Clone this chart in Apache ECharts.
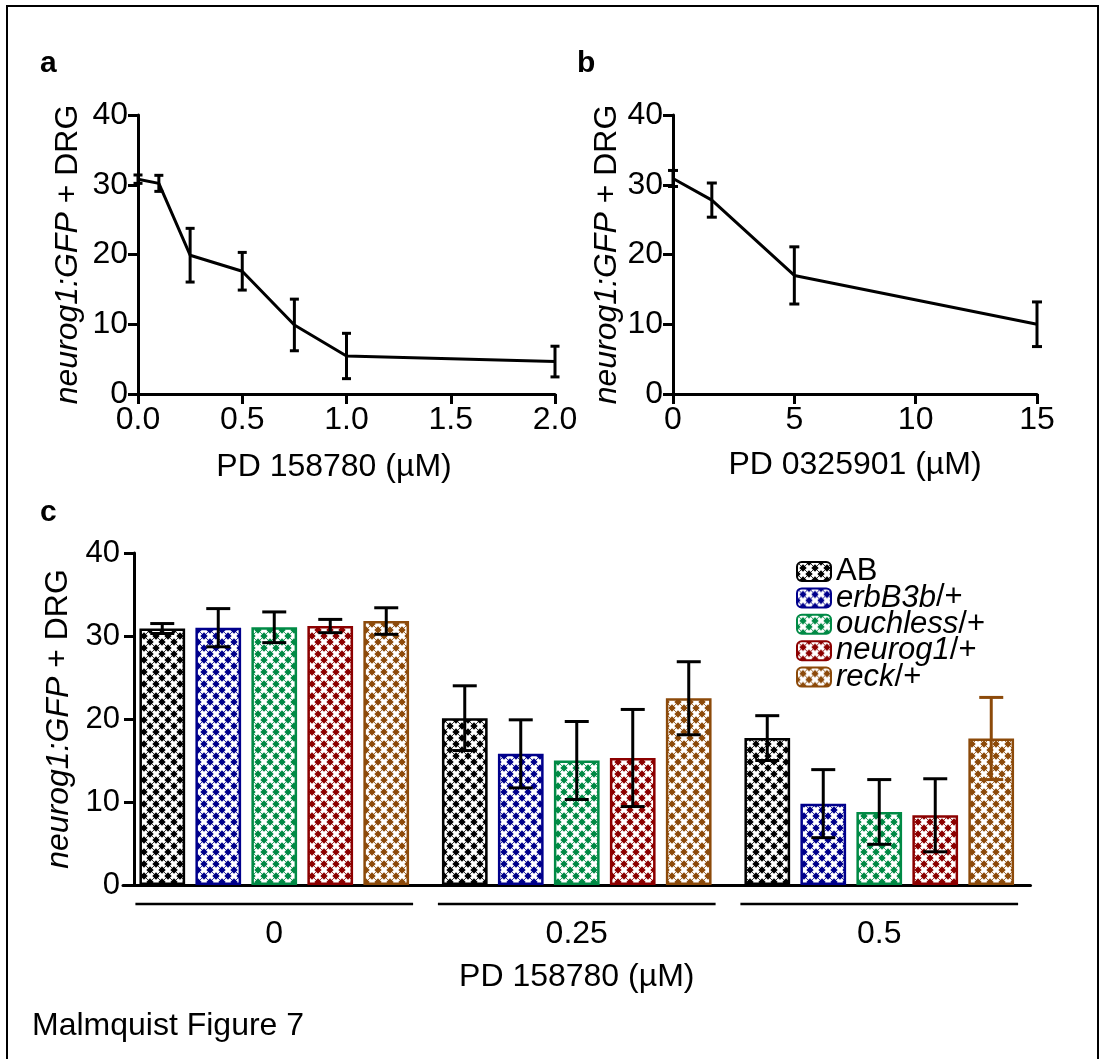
<!DOCTYPE html>
<html>
<head>
<meta charset="utf-8">
<script src="https://cdn.jsdelivr.net/npm/echarts@6/dist/echarts.min.js"></script>
<style>
  html, body { margin: 0; padding: 0; background: #fff; }
  #chart { width: 1117px; height: 1059px; }
</style>
</head>
<body>
<div id="chart"></div>
<script>
// panel a: PD 158780 dose response
const doseA = [0, 0.1, 0.25, 0.5, 0.75, 1.0, 2.0]
const meanA = [30.8, 30.2, 19.9, 17.6, 9.9, 5.45, 4.65]
const semA = [0.6, 1.15, 3.85, 2.7, 3.7, 3.25, 2.2]

// panel b: PD 0325901 dose response
const doseB = [0, 1.6, 5, 15]
const meanB = [30.9, 27.8, 17.0, 10.0]
const semB = [1.15, 2.45, 4.1, 3.2]

// panel c: heterozygotes at three PD 158780 doses
const groups = ['0', '0.25', '0.5']
const strains = ['AB', 'erbB3b/+', 'ouchless/+', 'neurog1/+', 'reck/+']
const colors = ['#000000', '#00008c', '#008a45', '#8c0000', '#8c4a0a']
const meanC = [
  [30.9, 20.1, 17.7],
  [31.0, 15.8, 9.8],
  [31.05, 15.0, 8.8],
  [31.2, 15.3, 8.4],
  [31.8, 22.5, 17.65]
]
const semC = [
  [0.6, 3.9, 2.7],
  [2.3, 4.1, 4.1],
  [1.85, 4.7, 3.9],
  [0.8, 5.85, 4.4],
  [1.6, 4.4, 4.95]
]
// error bar colour per strain and group (reck at 0.5 is drawn brown)
const errColorC = [
  ['#000', '#000', '#000'],
  ['#000', '#000', '#000'],
  ['#000', '#000', '#000'],
  ['#000', '#000', '#000'],
  ['#000', '#000', '#8c4a0a']
]

const FONT = '"Liberation Sans", Arial, sans-serif'
const barW = 45.7
const barGapPx = 10.3
const barStep = barW + barGapPx

function makePattern (color) {
  let c = document.createElement('canvas')
  c.width = 12
  c.height = 12
  let ctx = c.getContext('2d')
  ctx.fillStyle = '#fff'
  ctx.fillRect(0, 0, 12, 12)
  ctx.strokeStyle = color
  ctx.lineWidth = 0.8
  ctx.beginPath()
  ctx.moveTo(0, 0); ctx.lineTo(12, 12)
  ctx.moveTo(12, 0); ctx.lineTo(0, 12)
  ctx.stroke()
  ctx.fillStyle = color
  let pts = [[0, 0], [12, 0], [0, 12], [12, 12], [6, 6]]
  pts.forEach(p => {
    ctx.beginPath()
    ctx.moveTo(p[0], p[1] - 3.7)
    ctx.lineTo(p[0] + 3.7, p[1])
    ctx.lineTo(p[0], p[1] + 3.7)
    ctx.lineTo(p[0] - 3.7, p[1])
    ctx.closePath()
    ctx.fill()
  })
  return { image: c, repeat: 'repeat' }
}

function errRender (capHalf) {
  return function (params, api) {
    let x = api.value(0)
    let p1 = api.coord([x, api.value(2)])
    let p2 = api.coord([x, api.value(1)])
    let st = { stroke: '#000', lineWidth: 3 }
    return {
      type: 'group',
      children: [
        { type: 'line', shape: { x1: p1[0], y1: p1[1], x2: p2[0], y2: p2[1] }, style: st },
        { type: 'line', shape: { x1: p1[0] - capHalf, y1: p1[1], x2: p1[0] + capHalf, y2: p1[1] }, style: st },
        { type: 'line', shape: { x1: p2[0] - capHalf, y1: p2[1], x2: p2[0] + capHalf, y2: p2[1] }, style: st }
      ]
    }
  }
}

const yName = '{i|neurog1:GFP} + DRG'
const yNameStyle = {
  fontSize: 32, fontFamily: FONT, color: '#000',
  rich: { i: { fontSize: 32, fontFamily: FONT, fontStyle: 'italic', color: '#000' } }
}
const axisLineStyle = { show: true, lineStyle: { color: '#000', width: 3 } }
const axisTickStyle = { show: true, length: 10, lineStyle: { color: '#000', width: 3 } }

function yAxisBase (gridIndex, labelSize, margin, gap) {
  return {
    type: 'value',
    gridIndex: gridIndex,
    min: 0,
    max: 40,
    interval: 10,
    name: yName,
    nameLocation: 'middle',
    nameRotate: 90,
    nameGap: gap,
    nameTextStyle: yNameStyle,
    axisLine: axisLineStyle,
    axisTick: axisTickStyle,
    splitLine: { show: false },
    axisLabel: { fontSize: labelSize, fontFamily: FONT, color: '#000', margin: margin }
  }
}

// bar series for panel c
let barSeries = strains.map((s, k) => ({
  name: s,
  type: 'bar',
  xAxisIndex: 2,
  yAxisIndex: 2,
  barWidth: barW,
  barGap: (barGapPx / barW * 100).toFixed(1) + '%',
  data: meanC[k],
  itemStyle: { color: makePattern(colors[k]), borderColor: colors[k], borderWidth: 2.5 },
  z: 2
}))

let errDataC = []
strains.forEach((s, k) => {
  groups.forEach((g, gi) => {
    errDataC.push([gi, k, meanC[k][gi] - semC[k][gi], meanC[k][gi] + semC[k][gi], errColorC[k][gi]])
  })
})

let option = {
  animation: false,
  backgroundColor: '#fff',
  textStyle: { fontFamily: FONT },
  grid: [
    { left: 138, top: 115, width: 417, height: 279 },
    { left: 673, top: 115, width: 364, height: 279 },
    { left: 123, top: 553, width: 907.5, height: 332 }
  ],
  legend: {
    orient: 'vertical',
    left: 796,
    top: 556,
    itemWidth: 34,
    itemHeight: 19,
    itemGap: -4.6,
    padding: 0,
    data: strains,
    formatter: function (name) {
      let i = name.indexOf('/')
      if (i < 0) return '{n|' + name + '}'
      return '{i|' + name.slice(0, i) + '}{n|' + name.slice(i) + '}'
    },
    textStyle: {
      fontSize: 31,
      fontFamily: FONT,
      color: '#000',
      rich: {
        n: { fontSize: 31, fontFamily: FONT, color: '#000' },
        i: { fontSize: 31, fontFamily: FONT, color: '#000', fontStyle: 'italic' }
      }
    }
  },
  xAxis: [
    {
      type: 'value',
      gridIndex: 0,
      min: 0,
      max: 2,
      interval: 0.5,
      name: 'PD 158780 (µM)',
      nameLocation: 'middle',
      nameGap: 57,
      nameTextStyle: { fontSize: 32, fontFamily: FONT, color: '#000', padding: [0, 25, 0, 0] },
      axisLine: axisLineStyle,
      axisTick: axisTickStyle,
      splitLine: { show: false },
      axisLabel: { fontSize: 32, fontFamily: FONT, color: '#000', margin: 10, formatter: v => v.toFixed(1) }
    },
    {
      type: 'value',
      gridIndex: 1,
      min: 0,
      max: 15,
      interval: 5,
      name: 'PD 0325901 (µM)',
      nameLocation: 'middle',
      nameGap: 55,
      nameTextStyle: { fontSize: 32, fontFamily: FONT, color: '#000' },
      axisLine: axisLineStyle,
      axisTick: axisTickStyle,
      splitLine: { show: false },
      axisLabel: { fontSize: 32, fontFamily: FONT, color: '#000', margin: 10 }
    },
    {
      type: 'category',
      gridIndex: 2,
      data: groups,
      name: 'PD 158780 (µM)',
      nameLocation: 'middle',
      nameGap: 76,
      nameTextStyle: { fontSize: 32, fontFamily: FONT, color: '#000' },
      axisLine: axisLineStyle,
      axisTick: { show: false },
      axisLabel: { fontSize: 32, fontFamily: FONT, color: '#000', margin: 33 }
    }
  ],
  yAxis: [
    yAxisBase(0, 32, 10, 54),
    yAxisBase(1, 32, 10, 50),
    Object.assign(yAxisBase(2, 31, 14, 56), { offset: -11 })
  ],
  series: [
    {
      type: 'line',
      xAxisIndex: 0,
      yAxisIndex: 0,
      data: doseA.map((d, i) => [d, meanA[i]]),
      symbol: 'none',
      lineStyle: { color: '#000', width: 3 },
      z: 3
    },
    {
      type: 'custom',
      xAxisIndex: 0,
      yAxisIndex: 0,
      data: doseA.map((d, i) => [d, meanA[i] - semA[i], meanA[i] + semA[i]]),
      encode: { x: 0, y: [1, 2] },
      renderItem: errRender(4.5),
      z: 4
    },
    {
      type: 'line',
      xAxisIndex: 1,
      yAxisIndex: 1,
      data: doseB.map((d, i) => [d, meanB[i]]),
      symbol: 'none',
      lineStyle: { color: '#000', width: 3 },
      z: 3
    },
    {
      type: 'custom',
      xAxisIndex: 1,
      yAxisIndex: 1,
      data: doseB.map((d, i) => [d, meanB[i] - semB[i], meanB[i] + semB[i]]),
      encode: { x: 0, y: [1, 2] },
      renderItem: errRender(5),
      z: 4
    }
  ].concat(barSeries).concat([
    {
      // error bars on top of the grouped bars
      type: 'custom',
      xAxisIndex: 2,
      yAxisIndex: 2,
      data: errDataC,
      encode: { x: 0, y: [2, 3] },
      renderItem: function (params, api) {
        let cx = api.coord([api.value(0), 0])[0] + (api.value(1) - 2) * barStep
        let top = api.coord([api.value(0), api.value(3)])[1]
        let bot = api.coord([api.value(0), api.value(2)])[1]
        let st = { stroke: errDataC[params.dataIndex][4], lineWidth: 3 }
        return {
          type: 'group',
          children: [
            { type: 'line', shape: { x1: cx, y1: top, x2: cx, y2: bot }, style: st },
            { type: 'line', shape: { x1: cx - 12, y1: top, x2: cx + 12, y2: top }, style: st },
            { type: 'line', shape: { x1: cx - 12, y1: bot, x2: cx + 12, y2: bot }, style: st }
          ]
        }
      },
      z: 5
    },
    {
      // group underlines below the category axis
      type: 'custom',
      xAxisIndex: 2,
      yAxisIndex: 2,
      data: groups.map((g, i) => [i, 0]),
      encode: { x: 0, y: 1 },
      renderItem: function (params, api) {
        let p = api.coord([api.value(0), 0])
        let half = (5 * barW + 4 * barGapPx) / 2 + 4
        return {
          type: 'line',
          shape: { x1: p[0] - half, y1: p[1] + 19, x2: p[0] + half, y2: p[1] + 19 },
          style: { stroke: '#000', lineWidth: 2.5 }
        }
      },
      z: 5
    }
  ]),
  graphic: [
    { type: 'rect', shape: { x: 7, y: 6, width: 1091, height: 1100 }, style: { fill: null, stroke: '#000', lineWidth: 2 }, silent: true },
    { type: 'text', left: 40, top: 49, style: { text: 'a', font: 'bold 30px ' + FONT, fill: '#000' } },
    { type: 'text', left: 577, top: 49, style: { text: 'b', font: 'bold 30px ' + FONT, fill: '#000' } },
    { type: 'text', left: 40, top: 498, style: { text: 'c', font: 'bold 30px ' + FONT, fill: '#000' } },
    { type: 'text', left: 32, top: 1010, style: { text: 'Malmquist Figure 7', font: '32px ' + FONT, fill: '#000' } }
  ]
}

let myChart = echarts.init(document.getElementById('chart'))
myChart.setOption(option)
</script>
</body>
</html>
